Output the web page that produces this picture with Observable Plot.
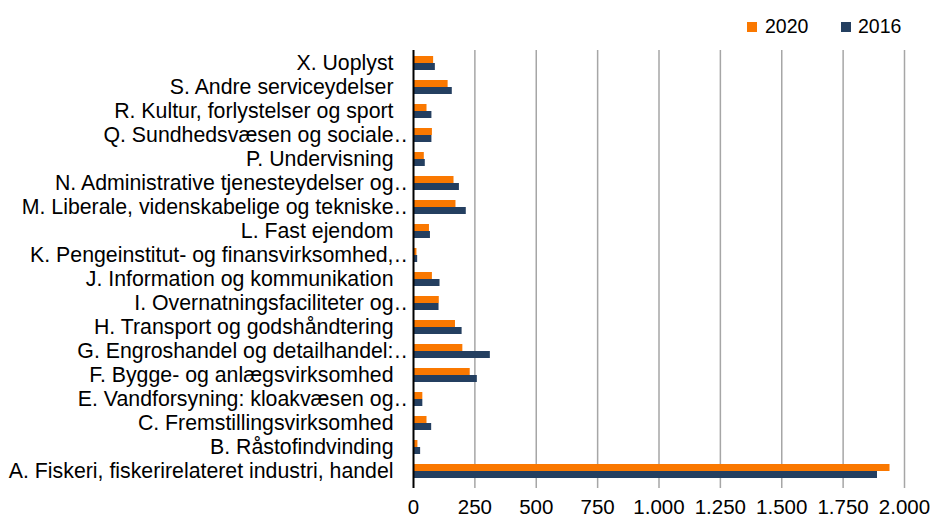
<!DOCTYPE html>
<html><head><meta charset="utf-8">
<script src="https://cdn.jsdelivr.net/npm/d3@7"></script>
<script src="https://cdn.jsdelivr.net/npm/@observablehq/plot@0.6"></script>
<style>
body{margin:0;background:#fff;font-family:"Liberation Sans",Arial,sans-serif;}
#wrap{position:relative;width:932px;height:518px;overflow:hidden;}
#legend{position:relative;height:40px;width:932px;}
.sw{position:absolute;width:10px;height:10px;top:22px;}
.lt{position:absolute;top:17px;font-size:19.5px;line-height:19.5px;color:#000;}
</style></head><body>
<div id="wrap"><div id="legend"></div><div id="chart"></div></div>
<script>
const categories = [
  "X. Uoplyst",
  "S. Andre serviceydelser",
  "R. Kultur, forlystelser og sport",
  "Q. Sundhedsvæsen og sociale…",
  "P. Undervisning",
  "N. Administrative tjenesteydelser og…",
  "M. Liberale, videnskabelige og tekniske…",
  "L. Fast ejendom",
  "K. Pengeinstitut- og finansvirksomhed,…",
  "J. Information og kommunikation",
  "I. Overnatningsfaciliteter og…",
  "H. Transport og godshåndtering",
  "G. Engroshandel og detailhandel:…",
  "F. Bygge- og anlægsvirksomhed",
  "E. Vandforsyning: kloakvæsen og…",
  "C. Fremstillingsvirksomhed",
  "B. Råstofindvinding",
  "A. Fiskeri, fiskerirelateret industri, handel"
];
const values2020 = [82, 141, 55, 77, 44, 165, 173, 65, 14, 77, 105, 171, 201, 231, 38, 55, 18, 1941];
const values2016 = [89, 158, 75, 75, 48, 187, 215, 69, 17, 108, 104, 198, 313, 260, 38, 74, 29, 1890];
const seriesNames = ["2020", "2016"];
const seriesColors = ["#FA7800", "#243F60"];
const xTicks = [0, 250, 500, 750, 1000, 1250, 1500, 1750, 2000];

const rows2020 = categories.map((c, i) => ({category: c, series: seriesNames[0], value: values2020[i]}));
const rows2016 = categories.map((c, i) => ({category: c, series: seriesNames[1], value: values2016[i]}));

const fmt = d => d3.format(",")(d).replace(/,/g, ".");

// legend (HTML, above the SVG)
const legend = document.getElementById("legend");
const legendPos = [[747, 765], [841, 858]];
seriesNames.forEach((s, i) => {
  const sw = document.createElement("span");
  sw.className = "sw"; sw.style.left = legendPos[i][0] + "px"; sw.style.background = seriesColors[i];
  const t = document.createElement("span");
  t.className = "lt"; t.style.left = legendPos[i][1] + "px"; t.textContent = s;
  legend.appendChild(sw); legend.appendChild(t);
});

const chart = Plot.plot({
  width: 932, height: 478,
  marginLeft: 413, marginRight: 28, marginTop: 10, marginBottom: 34,
  style: {fontFamily: "'Liberation Sans', Arial, sans-serif", fontSize: "20px", color: "#000", background: "#fff", overflow: "visible"},
  x: {domain: [0, 2000], label: null},
  y: {domain: categories, padding: 0, axis: null, label: null},
  color: {domain: seriesNames, range: seriesColors},
  marks: [
    Plot.ruleX(xTicks.slice(1), {stroke: "#a6a6a6", strokeWidth: 1.5, insetBottom: -4}),
    Plot.barX(rows2020, {x: "value", y: "category", fill: "series", insetTop: 5, insetBottom: 12}),
    Plot.barX(rows2016, {x: "value", y: "category", fill: "series", insetTop: 12, insetBottom: 5}),
    Plot.ruleX([0], {stroke: "#000", strokeWidth: 2, insetBottom: -4}),
    Plot.axisX({ticks: xTicks, tickFormat: fmt, tickSize: 0, tickPadding: 15, fontSize: 20.5, label: null}),
    Plot.text(categories, {y: d => d, text: d => d.replace(/…$/, ""), frameAnchor: "left", textAnchor: "end", dx: -20, fontSize: 21.3, fill: "#000"}),
    Plot.text(categories.filter(d => d.endsWith("…")), {y: d => d, text: () => "…", frameAnchor: "left", textAnchor: "start", dx: -20, fontSize: 21.3, fill: "#000"})
  ]
});

// clip the trailing ellipsis the way the label box truncates it (clip in the group's own, shifted space)
const ns = "http://www.w3.org/2000/svg";
const defs = document.createElementNS(ns, "defs");
const cp = document.createElementNS(ns, "clipPath");
cp.setAttribute("id", "ellclip");
cp.setAttribute("clipPathUnits", "userSpaceOnUse");
const r = document.createElementNS(ns, "rect");
r.setAttribute("x", -50); r.setAttribute("y", -50); r.setAttribute("width", 476); r.setAttribute("height", 600);
cp.appendChild(r); defs.appendChild(cp);
chart.insertBefore(defs, chart.firstChild);
chart.querySelectorAll("text").forEach(t => {
  if (t.textContent === "…") t.parentNode.setAttribute("clip-path", "url(#ellclip)");
});

document.getElementById("chart").appendChild(chart);
</script>
</body></html>
